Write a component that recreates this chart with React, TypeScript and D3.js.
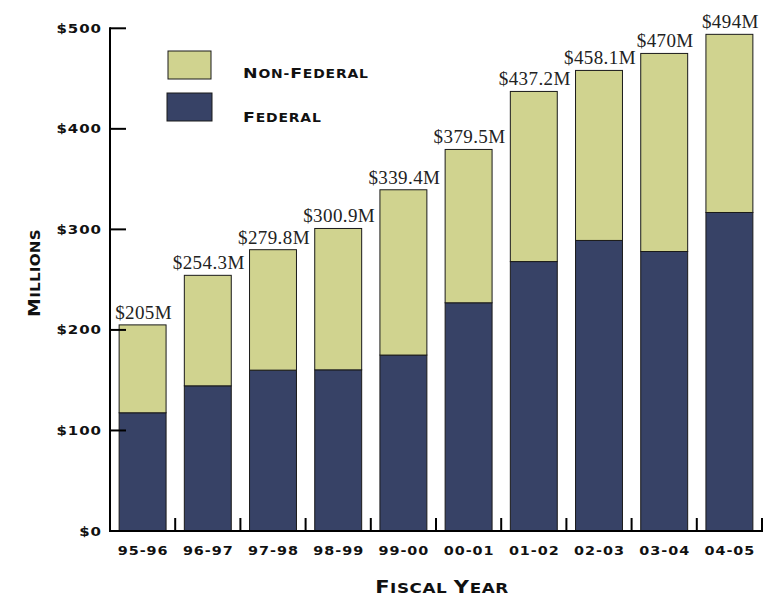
import React from "react";
import * as d3 from "d3";

const categories = ["95-96", "96-97", "97-98", "98-99", "99-00", "00-01", "01-02", "02-03", "03-04", "04-05"];
const federal = [117.6, 144.4, 160, 160.3, 175, 227, 268, 289, 278, 316.8];
const nonFederal = [87.4, 109.9, 119.8, 140.6, 164.4, 152.5, 169.2, 169.1, 197, 177.2];
const totalLabels = ["$205M", "$254.3M", "$279.8M", "$300.9M", "$339.4M", "$379.5M", "$437.2M", "$458.1M", "$470M", "$494M"];
const yTicks = [0, 100, 200, 300, 400, 500];
const legendItems = ["Non-Federal", "Federal"];

const W = 768;
const H = 600;
const NAVY = "#374266";
const KHAKI = "#d0d38f";
const STROKE = "#1a1a1a";
const TICK_FONT = "'DejaVu Sans', Verdana, sans-serif";
const LABEL_FONT = "'Liberation Serif', 'DejaVu Serif', serif";
const SX = 1.2;

function SmallCaps({ text, size, ratio = 0.8 }: { text: string; size: number; ratio?: number }) {
  const parts: { s: string; big: boolean }[] = [];
  for (const ch of text) {
    const big = ch === ch.toUpperCase() && ch !== ch.toLowerCase();
    const last = parts[parts.length - 1];
    if (last && last.big === big) last.s += ch;
    else parts.push({ s: ch, big });
  }
  return (
    <>
      {parts.map((p, i) => (
        <tspan key={i} fontSize={p.big ? size : size * ratio}>
          {p.s.toUpperCase()}
        </tspan>
      ))}
    </>
  );
}

export default function App() {
  const x = d3.scaleBand<string>().domain(categories).range([110, 762]).paddingInner(0.28).paddingOuter(0.14);
  const y = d3.scaleLinear().domain([0, 500]).range([531, 28.3]);
  const step = x.step();
  const bw = x.bandwidth();
  const rows = categories.map((c, i) => ({ c, f: federal[i], n: nonFederal[i], label: totalLabels[i] }));

  return (
    <svg width={W} height={H} style={{ position: "absolute", left: 0, top: 0, background: "#fff" }}>
      {/* bars */}
      {rows.map((r) => {
        const x0 = x(r.c) as number;
        const top = y(r.f + r.n);
        return (
          <g key={r.c}>
            <rect x={x0} y={y(r.f)} width={bw} height={y(0) - y(r.f)} fill={NAVY} stroke={STROKE} strokeWidth={1} />
            <rect x={x0} y={top} width={bw} height={y(r.f) - top} fill={KHAKI} stroke={STROKE} strokeWidth={1} />
            <text x={x0 + bw / 2 + 1} y={top - 6} textAnchor="middle" fontFamily={LABEL_FONT} fontSize={19} letterSpacing={0.4} fill="#222">
              {r.label}
            </text>
          </g>
        );
      })}

      {/* y axis */}
      <line x1={110} x2={110} y1={y(500) - 1} y2={y(0) + 1} stroke="#000" strokeWidth={2} />
      {yTicks.map((t) => (
        <g key={t}>
          <line x1={110} x2={126} y1={y(t)} y2={y(t)} stroke="#000" strokeWidth={2} />
          <g transform={`translate(102,${y(t)}) scale(${SX},1)`}>
            <text dy="0.36em" textAnchor="end" fontFamily={TICK_FONT} fontWeight="bold" fontSize={12.5} letterSpacing={0.8} fill="#111">
              {"$" + t}
            </text>
          </g>
        </g>
      ))}

      {/* x axis */}
      <line x1={109} x2={763} y1={y(0)} y2={y(0)} stroke="#000" strokeWidth={2} />
      {categories.map((c, i) => (
        <g key={c}>
          <line x1={110 + step * (i + 1)} x2={110 + step * (i + 1)} y1={y(0)} y2={y(0) - 13} stroke="#000" strokeWidth={2} />
          <g transform={`translate(${(x(c) as number) + bw / 2 + 0.5},551) scale(${SX},1)`}>
            <text dy="0.36em" textAnchor="middle" fontFamily={TICK_FONT} fontWeight="bold" fontSize={12} letterSpacing={0.8} fill="#111">
              {c}
            </text>
          </g>
        </g>
      ))}

      {/* axis titles */}
      <g transform={`translate(442,593) scale(${SX},1)`}>
        <text textAnchor="middle" fontFamily={TICK_FONT} fontWeight="bold" letterSpacing={0.5} fill="#111">
          <SmallCaps text="Fiscal Year" size={17.5} />
        </text>
      </g>
      <g transform="translate(40,273) rotate(-90) scale(1.15,1)">
        <text textAnchor="middle" fontFamily={TICK_FONT} fontWeight="bold" letterSpacing={0.2} fill="#111">
          <SmallCaps text="Millions" size={16.5} />
        </text>
      </g>

      {/* legend */}
      {legendItems.map((name, i) => (
        <g key={name}>
          <rect x={168 - i} y={51 + i * 42} width={43 + i * 2} height={28} fill={i === 0 ? KHAKI : NAVY} stroke={STROKE} strokeWidth={1} />
          <g transform={`translate(243,${78.3 + i * 43.5}) scale(${SX},1)`}>
            <text fontFamily={TICK_FONT} fontWeight="bold" letterSpacing={0.7} fill="#111">
              <SmallCaps text={name} size={14.5} />
            </text>
          </g>
        </g>
      ))}
    </svg>
  );
}
